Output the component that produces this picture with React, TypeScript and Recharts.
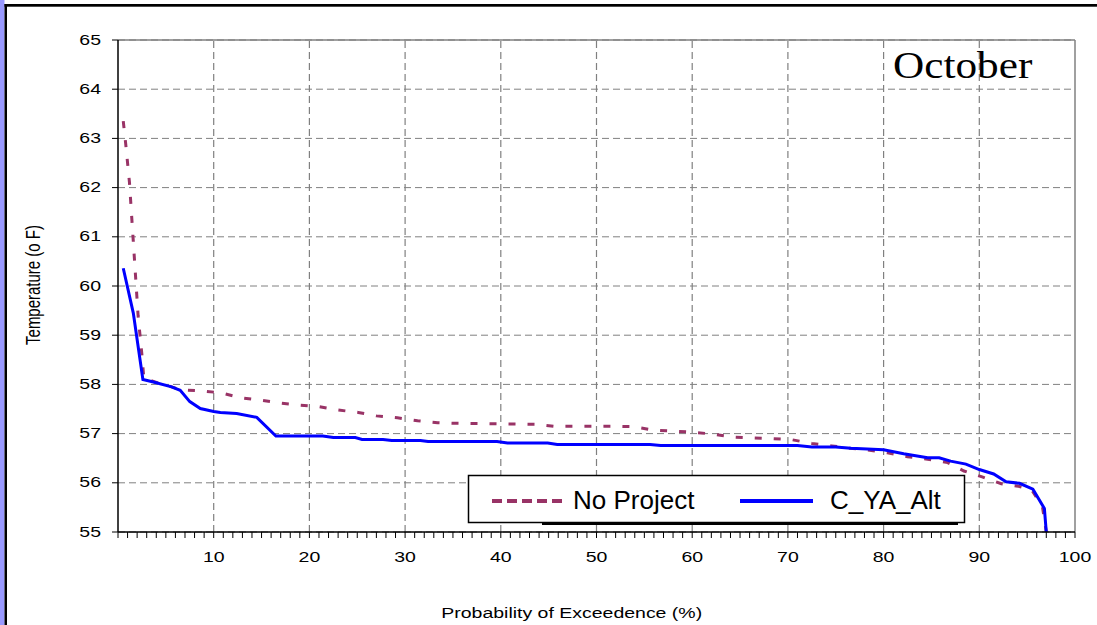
import React from "react";
import {
  LineChart,
  Line,
  XAxis,
  YAxis,
  CartesianGrid,
  ReferenceLine,
} from "recharts";

// ---- data ----
const noProjectP = [
  0.55, 0.8, 1.2, 1.6, 2.1, 2.5, 2.7, 3.7, 5.6, 6.5, 8.6, 10.7, 12.8, 14.9, 17,
  18.9, 20.9, 23, 25.1, 27, 29.2, 31.3, 33.4, 35.3, 39.4, 43.6, 45.5, 51.8,
  53.9, 56, 58, 60, 62.1, 64.2, 68.2, 70.3, 72.5, 74.6, 76.5, 78.3, 80.4, 82.5,
  84.6, 86.7, 88.4, 90.3, 92.3, 94.1, 95.5, 96.6, 97.0,
];
const noProjectT = [
  63.35, 62.9, 62.1, 60.9, 59.4, 58.6, 58.12, 58.06, 57.95, 57.89, 57.87,
  57.83, 57.73, 57.68, 57.62, 57.58, 57.55, 57.48, 57.43, 57.36, 57.32, 57.26,
  57.22, 57.21, 57.2, 57.19, 57.15, 57.15, 57.14, 57.07, 57.05, 57.03, 56.99,
  56.93, 56.9, 56.88, 56.8, 56.75, 56.7, 56.67, 56.61, 56.53, 56.48, 56.41,
  56.24, 56.12, 55.98, 55.93, 55.85, 55.51, 55.0,
];
const cyaAltP = [
  0.55, 1.6, 2.6, 3.7, 5.6, 6.5, 7.5, 8.6, 10, 10.7, 12.4, 14.5, 16.5, 21.4,
  22.5, 24.8, 25.5, 27.7, 28.6, 31.6, 32.4, 39.6, 40.7, 44.9, 45.9, 55.6, 56.7,
  71, 72.5, 75, 76.6, 80, 82.1, 84.6, 85.8, 87, 88.6, 90, 91.5, 92.8, 94.2,
  95.6, 96.8, 97.0,
];
const cyaAltT = [
  60.36, 59.45, 58.1, 58.05, 57.95, 57.88, 57.65, 57.51, 57.45, 57.43, 57.41,
  57.33, 56.95, 56.95, 56.92, 56.92, 56.88, 56.88, 56.86, 56.86, 56.84, 56.84,
  56.81, 56.81, 56.78, 56.78, 56.76, 56.76, 56.73, 56.73, 56.7, 56.67, 56.59,
  56.51, 56.51, 56.44, 56.38, 56.27, 56.18, 56.02, 55.99, 55.87, 55.48, 55.0,
];
const yTicks = [55, 56, 57, 58, 59, 60, 61, 62, 63, 64, 65];
const xTicks = Array.from({ length: 101 }, (_, i) => i);
const xGrid = [10, 20, 30, 40, 50, 60, 70, 80, 90];
const seriesNames = ["No Project", "C_YA_Alt"];
const titleText = "October";
const xTitle = "Probability of Exceedence (%)";
const yTitle = "Temperature (o F)";

const noProjectData = noProjectP.map((p, i) => ({ p, t: noProjectT[i] }));
const cyaAltData = cyaAltP.map((p, i) => ({ p, t: cyaAltT[i] }));

const FONT = "'Liberation Sans', Arial, sans-serif";
const MAROON = "#993366";
const BLUE = "#0000ff";
const GRID = "#808080";
const SX = 1.3;

const XTick = (props: any) => {
  const { x, y, payload } = props;
  const v = payload.value;
  return (
    <g>
      <line x1={x} y1={y} x2={x} y2={y + 6} stroke="#000" strokeWidth={1} />
      {v % 10 === 0 && v !== 0 ? (
        <text
          transform={`translate(${x},${y + 30}) scale(${SX},1)`}
          textAnchor="middle"
          fontFamily={FONT}
          fontSize={15}
          fill="#000"
        >
          {v}
        </text>
      ) : null}
    </g>
  );
};

const YTick = (props: any) => {
  const { x, y, payload } = props;
  return (
    <g>
      <line x1={x - 6} y1={y} x2={x} y2={y} stroke="#000" strokeWidth={1} />
      <text
        transform={`translate(${x - 17},${y + 4.5}) scale(${SX},1)`}
        textAnchor="end"
        fontFamily={FONT}
        fontSize={15}
        fill="#000"
      >
        {payload.value}
      </text>
    </g>
  );
};

export default function App() {
  return (
    <div
      style={{
        position: "absolute",
        left: 0,
        top: 0,
        width: 1097,
        height: 625,
        background: "#fff",
        overflow: "hidden",
      }}
    >
      <div style={{ position: "absolute", left: 0, top: 0 }}>
        <LineChart
          width={1097}
          height={625}
          margin={{ top: 40, right: 22, left: 0, bottom: 0 }}
        >
          <CartesianGrid
            horizontal={true}
            vertical={false}
            stroke={GRID}
            strokeDasharray="7 4"
          />
          <XAxis
            type="number"
            dataKey="p"
            domain={[0, 100]}
            ticks={xTicks}
            interval={0}
            height={93}
            tickSize={0}
            tickMargin={0}
            tickLine={false}
            axisLine={{ stroke: "#000", strokeWidth: 1.5 }}
            tick={<XTick />}
            allowDataOverflow
          />
          <YAxis
            type="number"
            domain={[55, 65]}
            ticks={yTicks}
            interval={0}
            width={118}
            tickSize={0}
            tickMargin={0}
            tickLine={false}
            axisLine={{ stroke: "#000", strokeWidth: 1.5 }}
            tick={<YTick />}
            allowDataOverflow
          />
          {xGrid.map((v) => (
            <ReferenceLine
              key={v}
              x={v}
              stroke={GRID}
              strokeWidth={1.2}
              strokeDasharray="7 4"
            />
          ))}
          <ReferenceLine y={65} stroke={GRID} strokeWidth={1.5} />
          <ReferenceLine x={100} stroke={GRID} strokeWidth={1.5} />
          <Line
            data={noProjectData}
            dataKey="t"
            name={seriesNames[0]}
            type="linear"
            stroke={MAROON}
            strokeWidth={3}
            strokeDasharray="7 12"
            dot={false}
            activeDot={false}
            isAnimationActive={false}
          />
          <Line
            data={cyaAltData}
            dataKey="t"
            name={seriesNames[1]}
            type="linear"
            stroke={BLUE}
            strokeWidth={3}
            dot={false}
            activeDot={false}
            isAnimationActive={false}
          />
        </LineChart>
      </div>
      <svg
        width={1097}
        height={625}
        style={{ position: "absolute", left: 0, top: 0, pointerEvents: "none" }}
      >
        {/* outer frame */}
        <rect x={0} y={0} width={4.5} height={625} fill="#9999ff" />
        <rect x={4.5} y={4} width={2.5} height={621} fill="#000" />
        <rect x={4.5} y={4} width={1093} height={2.7} fill="#000" />
        {/* title */}
        <text
          transform={`translate(893,78) scale(1.17,1)`}
          fontFamily="'Liberation Serif', 'Times New Roman', serif"
          fontSize={37}
          fill="#000"
        >
          {titleText}
        </text>
        {/* axis titles */}
        <text
          transform={`translate(571.7,617.7) scale(1.3,1)`}
          textAnchor="middle"
          fontFamily={FONT}
          fontSize={15}
          fill="#000"
        >
          {xTitle}
        </text>
        <text
          transform={`translate(40,285) scale(${SX},1) rotate(-90)`}
          textAnchor="middle"
          fontFamily={FONT}
          fontSize={15}
          fill="#000"
        >
          {yTitle}
        </text>
        {/* legend */}
        <rect x={542} y={521} width={416} height={4} fill="#000" />
        <rect
          x={468.5}
          y={475.5}
          width={496}
          height={47}
          fill="#fff"
          stroke="#000"
          strokeWidth={1.5}
        />
        <line
          x1={492}
          y1={501}
          x2={562}
          y2={501}
          stroke={MAROON}
          strokeWidth={4}
          strokeDasharray="10 5"
        />
        <text x={573} y={509} fontFamily={FONT} fontSize={26} fill="#000">
          {seriesNames[0]}
        </text>
        <line x1={740} y1={501} x2={813} y2={501} stroke={BLUE} strokeWidth={4} />
        <text x={830} y={509} fontFamily={FONT} fontSize={26} fill="#000">
          {seriesNames[1]}
        </text>
      </svg>
    </div>
  );
}
